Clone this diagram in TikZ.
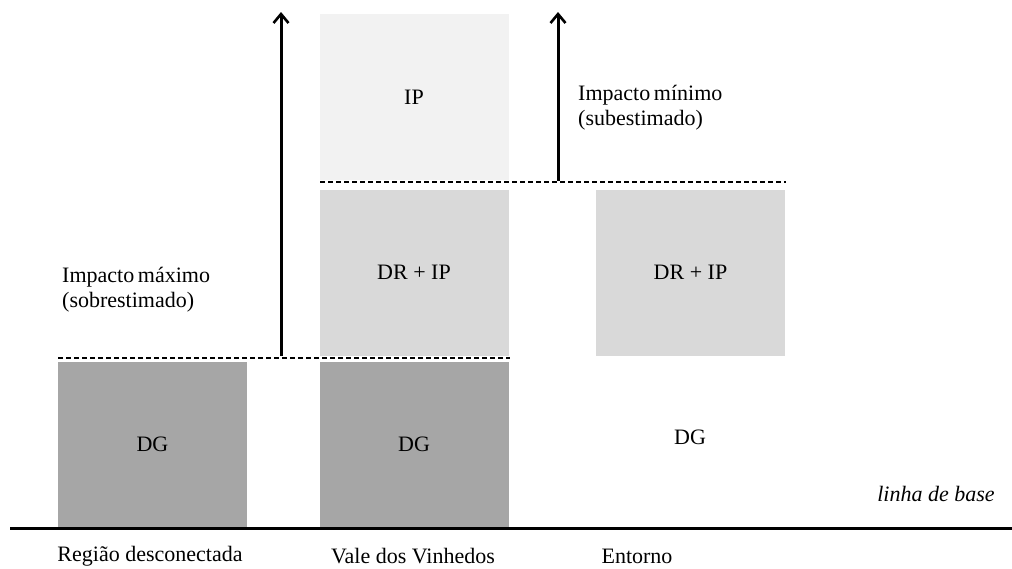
\documentclass[tikz,border=0pt]{standalone}
\usepackage{fontspec}
\setmainfont{Liberation Serif}
\usetikzlibrary{arrows.meta}
\begin{document}
\begin{tikzpicture}[x=1pt,y=-1pt,
  bar/.style={draw=none,minimum width=189pt,minimum height=166pt,inner sep=0pt,font=\fontsize{22}{24}\selectfont},
  dgbox/.style={bar,fill=black!35},
  drbox/.style={bar,fill=black!15},
  ipbox/.style={bar,fill=black!5},
  lvl/.style={dash pattern=on 5pt off 3pt,line width=1.5pt},
  imp/.style={line width=3pt,-{Straight Barb[length=9pt,width=15pt,line width=2.6pt]}},
  lbl/.style={font=\fontsize{22}{25}\selectfont,inner sep=0pt},
]
\useasboundingbox (0,0) rectangle (1012,568);
% boxes
\node[dgbox] (dg1) at (152.5,444.5) {DG};
\node[dgbox] (dg2) at (414,444.5) {DG};
\node[drbox] (dr2) at (414,272.5) {DR + IP};
\node[ipbox] (ip2) at (414,97) {IP};
\node[drbox] (dr3) at (690.5,272.5) {DR + IP};
\node[lbl] (dg3) at (690,437) {DG};
% level lines
\coordinate (l1a) at (58,358);
\coordinate (l1b) at (510,358);
\coordinate (l2a) at (320,182);
\coordinate (l2b) at (786,182);
\draw[lvl] (l1a) -- (l1b);
\draw[lvl] (l2a) -- (l2b);
% arrows
\coordinate (a1s) at (281,356);
\coordinate (a1e) at (281,12);
\coordinate (a2s) at (558,181);
\coordinate (a2e) at (558,12);
\draw[imp] (a1s) -- (a1e);
\draw[imp] (a2s) -- (a2e);
% baseline
\coordinate (b0) at (10,528);
\coordinate (b1) at (1012,528);
\draw[line width=3pt] (b0) -- (b1);
% labels
\node[lbl,anchor=west,align=left] (tmax) at (62,290) {Impacto\,máximo\\(sobrestimado)};
\node[lbl,anchor=west,align=left] (tmin) at (578,108) {Impacto\,mínimo\\(subestimado)};
\node[lbl] (base) at (936,494) {\itshape linha de base};
\node[lbl] (r1) at (150,556) {Região desconectada};
\node[lbl] (r2) at (413,556) {Vale dos Vinhedos};
\node[lbl] (r3) at (637,556) {Entorno};
\end{tikzpicture}
\end{document}
